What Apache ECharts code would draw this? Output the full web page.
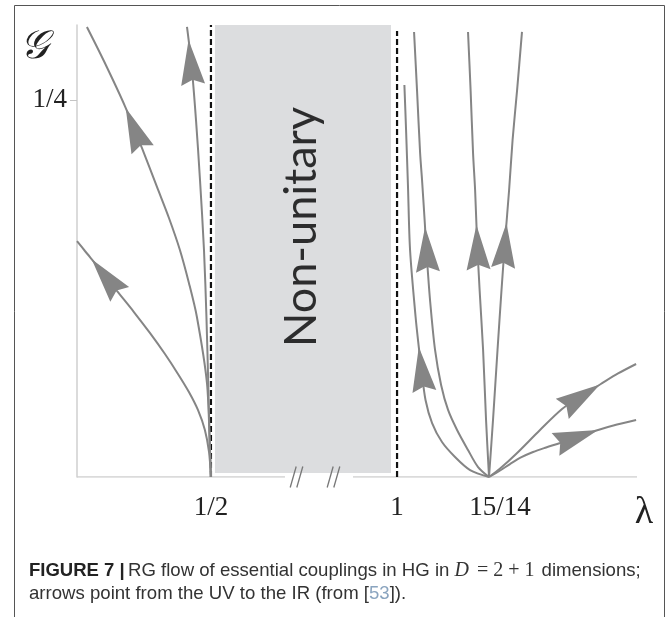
<!DOCTYPE html>
<html>
<head>
<meta charset="utf-8">
<script src="https://cdn.jsdelivr.net/npm/echarts@6/dist/echarts.min.js"></script>
<style>html,body{margin:0;padding:0;background:#fff}#c{width:670px;height:617px}</style>
</head>
<body>
<div id="c"></div>
<script>
// ---- axis / tick data ----
const xTickValues = [0.5, 1, 15 / 14];
const xTickLabels = ['1/2', '1', '15/14'];
const yTickValues = [0.25];
const yTickLabels = ['1/4'];
const lambdaRange = [0.396, 1.1863];
const gRange = [0, 0.3];
// axis break between 1/2 and 1
const breakStart = 0.5031, breakEnd = 0.9953, breakGap = 0.1367;
// non-unitary region
const nonUnitaryBox = [[0.5031, 0.0027], [0.9953, 0.3]];
const nonUnitaryLabelAt = [0.7464, 0.1660];
// dashed boundaries
const dashedHalf = [[0.5, 0], [0.5, 0.3]];
const dashedOne = [[1, 0], [1, 0.296]];
// x axis line pieces and break marks
const axisPieceLeft = [[0.396, 0], [0.6989, 0]];
const axisPieceRight = [[0.8891, 0], [1.1863, 0]];
const breakMarks = [[0.7311, 0], [0.8345, 0]];

// ---- RG flow lines (lambda, G) ----
const flowL1 = [[0.5,0],[0.4985,0.0166],[0.4953,0.0312],[0.4899,0.0445],[0.4829,0.0564],[0.4744,0.0684],[0.4643,0.0816],[0.4526,0.0956],[0.4402,0.1095],[0.4270,0.1235],[0.4130,0.1387],[0.4022,0.15],[0.3960,0.1566]];
const flowL2 = [[0.5,0],[0.4992,0.0179],[0.4969,0.0624],[0.4891,0.1062],[0.4829,0.1288],[0.4759,0.1507],[0.4674,0.1719],[0.4581,0.1925],[0.4464,0.2184],[0.4332,0.2462],[0.4169,0.2761],[0.4037,0.2987]];
const flowL3 = [[0.5,0],[0.4988,0.0312],[0.4979,0.0624],[0.4965,0.1062],[0.4946,0.1507],[0.4915,0.1971],[0.4884,0.2369],[0.4849,0.2735],[0.4814,0.2987]];
const flowR1 = [[1.0714,0],[1.0567,0.0046],[1.0450,0.0133],[1.0349,0.0232],[1.0272,0.0358],[1.0221,0.0511],[1.0190,0.0710],[1.0167,0.0876],[1.0144,0.1062],[1.0101,0.1507],[1.0085,0.1925],[1.0070,0.2303],[1.0057,0.2602]];
const flowR2 = [[1.0714,0],[1.0629,0.0066],[1.0551,0.0179],[1.0466,0.0312],[1.0396,0.0445],[1.0342,0.0611],[1.0295,0.0843],[1.0256,0.1175],[1.0233,0.1440],[1.0214,0.1706],[1.0194,0.1971],[1.0179,0.2150],[1.0155,0.2568],[1.0132,0.2954]];
const flowR3 = [[1.0714,0],[1.0691,0.0378],[1.0668,0.0843],[1.0641,0.1241],[1.0621,0.1573],[1.0606,0.1905],[1.0590,0.2150],[1.0571,0.2568],[1.0551,0.2954]];
const flowR4 = [[1.0714,0],[1.0745,0.0378],[1.0780,0.0843],[1.0811,0.1241],[1.0839,0.1573],[1.0870,0.1905],[1.0897,0.2237],[1.0932,0.2568],[1.0970,0.2954]];
const flowR5 = [[1.0714,0],[1.0800,0.0056],[1.0928,0.0156],[1.1110,0.0312],[1.1281,0.0451],[1.1421,0.0534],[1.1576,0.0614],[1.1716,0.0687],[1.1856,0.0750]];
const flowR6 = [[1.0714,0],[1.0800,0.0043],[1.0877,0.0086],[1.0970,0.0133],[1.1056,0.0166],[1.1157,0.0196],[1.1266,0.0226],[1.1421,0.0272],[1.1561,0.0312],[1.1708,0.0348],[1.1856,0.0378]];
const flows = [flowL1, flowL2, flowL3, flowR1, flowR2, flowR3, flowR4, flowR5, flowR6];
// arrow tips: [flow index, lambda, G]
const arrowTips = [[0,0.4076,0.1447],[1,0.4340,0.2449],[2,0.4825,0.2900],[3,1.0165,0.0863],[4,1.0217,0.1659],[5,1.0613,0.1673],[6,1.0849,0.1686],[7,1.1576,0.0614],[8,1.1561,0.0312]];

// ---- styles ----
const FLOW_COLOR = '#858585';
const ARROW_LEN = 45, ARROW_HALF = 12, ARROW_NOTCH = 5;
const SERIF = '"Liberation Serif", "DejaVu Serif", serif';
const SANS = '"Liberation Sans", Arial, sans-serif';

function pointAtArc(pts, cum, s) {
  for (let i = 1; i < pts.length; i++) {
    if (cum[i] >= s) {
      const seg = cum[i] - cum[i - 1] || 1;
      const t = (s - cum[i - 1]) / seg;
      return [pts[i-1][0] + t * (pts[i][0] - pts[i-1][0]), pts[i-1][1] + t * (pts[i][1] - pts[i-1][1])];
    }
  }
  return pts[pts.length - 1];
}

function renderArrow(params, api) {
  const curve = flows[api.value(0)].map(p => api.coord(p));
  const tip = api.coord([api.value(1), api.value(2)]);
  const cum = [0];
  for (let i = 1; i < curve.length; i++) {
    cum.push(cum[i-1] + Math.hypot(curve[i][0]-curve[i-1][0], curve[i][1]-curve[i-1][1]));
  }
  let best = {d: Infinity, s: 0};
  for (let i = 1; i < curve.length; i++) {
    const ax = curve[i-1][0], ay = curve[i-1][1];
    const vx = curve[i][0]-ax, vy = curve[i][1]-ay;
    const l2 = vx*vx + vy*vy || 1;
    let t = ((tip[0]-ax)*vx + (tip[1]-ay)*vy) / l2;
    t = Math.max(0, Math.min(1, t));
    const px = ax + t*vx, py = ay + t*vy;
    const d = Math.hypot(tip[0]-px, tip[1]-py);
    if (d < best.d) best = {d, s: cum[i-1] + t*Math.sqrt(l2)};
  }
  const T = pointAtArc(curve, cum, best.s);
  const B = pointAtArc(curve, cum, Math.max(0, best.s - ARROW_LEN));
  const len = Math.hypot(T[0]-B[0], T[1]-B[1]) || 1;
  const ux = (T[0]-B[0])/len, uy = (T[1]-B[1])/len;
  const nx = -uy, ny = ux;
  return {
    type: 'polygon',
    shape: {points: [T, [B[0]+nx*ARROW_HALF, B[1]+ny*ARROW_HALF], [B[0]+ux*ARROW_NOTCH, B[1]+uy*ARROW_NOTCH], [B[0]-nx*ARROW_HALF, B[1]-ny*ARROW_HALF]]},
    style: {fill: FLOW_COLOR}
  };
}

function renderBreakMark(params, api) {
  const c = api.coord([api.value(0), api.value(1)]);
  const mk = dx => ({type: 'line', shape: {x1: c[0]+dx-3, y1: c[1]+10.5, x2: c[0]+dx+3, y2: c[1]-10.5}, style: {stroke: '#777', lineWidth: 1.3}});
  return {type: 'group', children: [mk(-3.3), mk(3.3)]};
}

const flowSeries = flows.map(f => ({
  type: 'line', data: f, smooth: 0.3, showSymbol: false, symbol: 'none', z: 3,
  lineStyle: {color: FLOW_COLOR, width: 2}, silent: true
}));

const chart = echarts.init(document.getElementById('c'), null, {renderer: 'canvas'});
chart.setOption({
  animation: false,
  backgroundColor: '#fff',
  grid: {left: 77, right: 33, top: 25, bottom: 140},
  xAxis: {
    type: 'value', min: lambdaRange[0], max: lambdaRange[1],
    breaks: [{start: breakStart, end: breakEnd, gap: breakGap}],
    breakArea: {show: false},
    axisLine: {show: false}, axisTick: {show: false}, splitLine: {show: false},
    axisLabel: {
      customValues: xTickValues, margin: 17, color: '#222', fontFamily: SERIF, fontSize: 27,
      formatter: v => {
        const i = xTickValues.findIndex(t => Math.abs(t - v) < 1e-6);
        if (i < 0) return '';
        return i === 2 ? '{s|' + xTickLabels[i] + '}' : xTickLabels[i];
      },
      rich: {s: {padding: [0, 0, 0, 22], fontFamily: SERIF, fontSize: 27, color: '#222'}}
    },
    name: 'λ', nameLocation: 'end', nameGap: 0,
    nameTextStyle: {fontFamily: SERIF, fontSize: 38, color: '#222', align: 'center', verticalAlign: 'top', padding: [17, 0, 0, 14]}
  },
  yAxis: {
    type: 'value', min: gRange[0], max: gRange[1],
    axisLine: {show: true, lineStyle: {color: '#cfcfcf', width: 1.5}},
    axisTick: {show: true, customValues: yTickValues, length: 7, lineStyle: {color: '#c4c4c4', width: 1}},
    splitLine: {show: false},
    axisLabel: {customValues: yTickValues, formatter: v => yTickLabels[yTickValues.indexOf(v)] || '', margin: 10, color: '#222', fontFamily: SERIF, fontSize: 27},
    name: '𝒢', nameLocation: 'end', nameGap: -2,
    nameTextStyle: {fontFamily: SERIF, fontSize: 40, fontStyle: 'italic', color: '#222', align: 'right', verticalAlign: 'top', padding: [0, 29, 0, 0]}
  },
  series: [
    {
      type: 'line', data: axisPieceLeft, symbol: 'none', z: 1, silent: true,
      lineStyle: {color: '#cfcfcf', width: 1.5},
      markArea: {
        silent: true,
        itemStyle: {color: '#dcdddf'},
        data: [[{coord: nonUnitaryBox[0]}, {coord: nonUnitaryBox[1]}]]
      }
    },
    {type: 'line', data: axisPieceRight, symbol: 'none', z: 1, silent: true, lineStyle: {color: '#cfcfcf', width: 1.5}},
    {type: 'line', data: dashedHalf, symbol: 'none', z: 2, silent: true, lineStyle: {color: '#111', width: 2.2, type: [6, 3]}},
    {type: 'line', data: dashedOne, symbol: 'none', z: 2, silent: true, lineStyle: {color: '#111', width: 2.2, type: [6, 3]}},
    {
      type: 'scatter', data: [nonUnitaryLabelAt], symbolSize: 0, z: 4, silent: true,
      label: {show: true, position: 'inside', formatter: 'Non-unitary', rotate: 90, align: 'center', verticalAlign: 'middle',
        fontFamily: 'Lato, "Open Sans", sans-serif', fontWeight: 'normal', fontSize: 45, color: '#000'}
    },
    {type: 'custom', data: breakMarks, renderItem: renderBreakMark, clip: false, z: 4, silent: true, encode: {x: 0, y: 1}},
    ...flowSeries,
    {type: 'custom', data: arrowTips, renderItem: renderArrow, clip: false, z: 5, silent: true, encode: {x: 1, y: 2}, dimensions: ['flow', 'lambda', 'G']}
  ],
  graphic: [
    {type: 'rect', shape: {x: 14.5, y: 5.5, width: 650, height: 700}, style: {fill: 'none', stroke: '#555', lineWidth: 1}, silent: true, z: 10},
    {
      type: 'text', left: 29, top: 561, silent: true,
      style: {
        text: '{b|FIGURE 7 |} {r|RG flow of essential couplings in HG in }{i|D}{m| = 2 + 1 }{r|dimensions;}',
        rich: {
          b: {fontFamily: SANS, fontWeight: 'bold', fontSize: 18.5, fill: '#222'},
          r: {fontFamily: SANS, fontSize: 18.6, fill: '#333'},
          i: {fontFamily: SERIF, fontStyle: 'italic', fontSize: 20, fill: '#333', padding: [0, 3, 0, 0]},
          m: {fontFamily: SERIF, fontSize: 20, fill: '#333', padding: [0, 2, 0, 0]}
        }
      }
    },
    {
      type: 'text', left: 29, top: 584, silent: true,
      style: {
        text: '{r|arrows point from the UV to the IR (from [}{c|53}{r|]).}',
        rich: {
          r: {fontFamily: SANS, fontSize: 18.6, fill: '#333'},
          c: {fontFamily: SANS, fontSize: 18.6, fill: '#8aa4bf'}
        }
      }
    }
  ]
});
</script>
</body>
</html>
